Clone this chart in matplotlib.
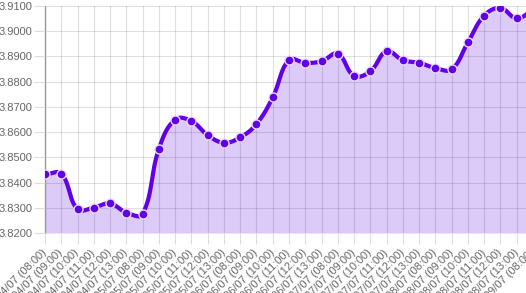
import numpy as np
import matplotlib.pyplot as plt

plt.rcParams['font.family'] = ['Liberation Sans', 'DejaVu Sans']

# data
days = ["04/07", "05/07", "06/07", "07/07", "08/07"]
hours = ["08:00", "09:00", "10:00", "11:00", "12:00", "13:00"]
labels = [f"{d} ({h})" for d in days for h in hours] + ["09/07 (08:00)"]
rates = [3.8432, 3.8435, 3.8294, 3.8301, 3.8317, 3.8281, 3.8275,
         3.8533, 3.8650, 3.8644, 3.8588, 3.8558, 3.8579, 3.8632,
         3.8738, 3.8886, 3.8875, 3.8881, 3.8911, 3.8823, 3.8841,
         3.8921, 3.8885, 3.8875, 3.8854, 3.8849, 3.8956, 3.9062,
         3.9092, 3.9051, 3.9085]

line_col = "#6200ea"
fill_col = "#dccbf9"
text_col = "#666666"

W, H = 526, 293
fig = plt.figure(figsize=(W / 100, H / 100), dpi=100)
left, right, top, bottom = 45, 533, 6, 233
ax = fig.add_axes([left / W, (H - bottom) / H, (right - left) / W, (bottom - top) / H])

n = len(rates)
x = np.arange(n, dtype=float)
y = np.array(rates)
ymin, ymax = 3.82, 3.91
ax.set_xlim(0, n - 1)
ax.set_ylim(ymin, ymax)

# chart.js style bezier smoothing (tension 0.4), computed in pixel space
sx = (right - left) / (n - 1)
sy = (bottom - top) / (ymax - ymin)
px, py = x * sx, y * sy
t = 0.4
cp_prev, cp_next = [], []
for i in range(n):
    p0 = (px[max(i - 1, 0)], py[max(i - 1, 0)])
    p1 = (px[i], py[i])
    p2 = (px[min(i + 1, n - 1)], py[min(i + 1, n - 1)])
    d01 = np.hypot(p1[0] - p0[0], p1[1] - p0[1])
    d12 = np.hypot(p2[0] - p1[0], p2[1] - p1[1])
    s01 = d01 / (d01 + d12) if d01 + d12 else 0
    s12 = d12 / (d01 + d12) if d01 + d12 else 0
    fa, fb = t * s01, t * s12
    cp_prev.append((p1[0] - fa * (p2[0] - p0[0]), p1[1] - fa * (p2[1] - p0[1])))
    cp_next.append((p1[0] + fb * (p2[0] - p0[0]), p1[1] + fb * (p2[1] - p0[1])))

cx, cy = [], []
u = np.linspace(0, 1, 30)
for i in range(n - 1):
    P0 = np.array([px[i], py[i]])
    P1 = np.array(cp_next[i])
    P2 = np.array(cp_prev[i + 1])
    P3 = np.array([px[i + 1], py[i + 1]])
    pts = ((1 - u) ** 3)[:, None] * P0 + (3 * (1 - u) ** 2 * u)[:, None] * P1 \
        + (3 * (1 - u) * u ** 2)[:, None] * P2 + (u ** 3)[:, None] * P3
    cx.extend(pts[:, 0] / sx)
    cy.extend(pts[:, 1] / sy)
cx, cy = np.array(cx), np.array(cy)

ax.fill_between(cx, cy, ymin, color=fill_col, lw=0, zorder=1)
ax.grid(True, color="black", alpha=0.12, lw=0.8, zorder=2)
ax.set_axisbelow(False)
ax.plot(cx, cy, color=line_col, lw=3, zorder=3, solid_capstyle="round")
ax.plot(x, y, "o", ms=6.5, mfc=line_col, mec="#e8dcfb", mew=1, zorder=4)

yt = np.arange(3.82, 3.9101, 0.01)
ax.set_yticks(yt)
ax.set_yticklabels([f"{v:.4f}" for v in yt])
ax.set_xticks(x)
ax.set_xticklabels(labels, rotation=45, ha="right", va="center", rotation_mode="anchor")
ax.tick_params(axis="x", length=8, width=0.8, color="#dddddd", labelsize=8,
               labelcolor=text_col, pad=5)
ax.tick_params(axis="y", length=8, width=0.8, color="#dddddd", labelsize=8,
               labelcolor=text_col, pad=1)
for s in ["top", "right", "bottom"]:
    ax.spines[s].set_visible(False)
ax.spines["left"].set_color("#aaaaaa")
ax.spines["left"].set_linewidth(1)

fig.savefig("out.png", dpi=100)
